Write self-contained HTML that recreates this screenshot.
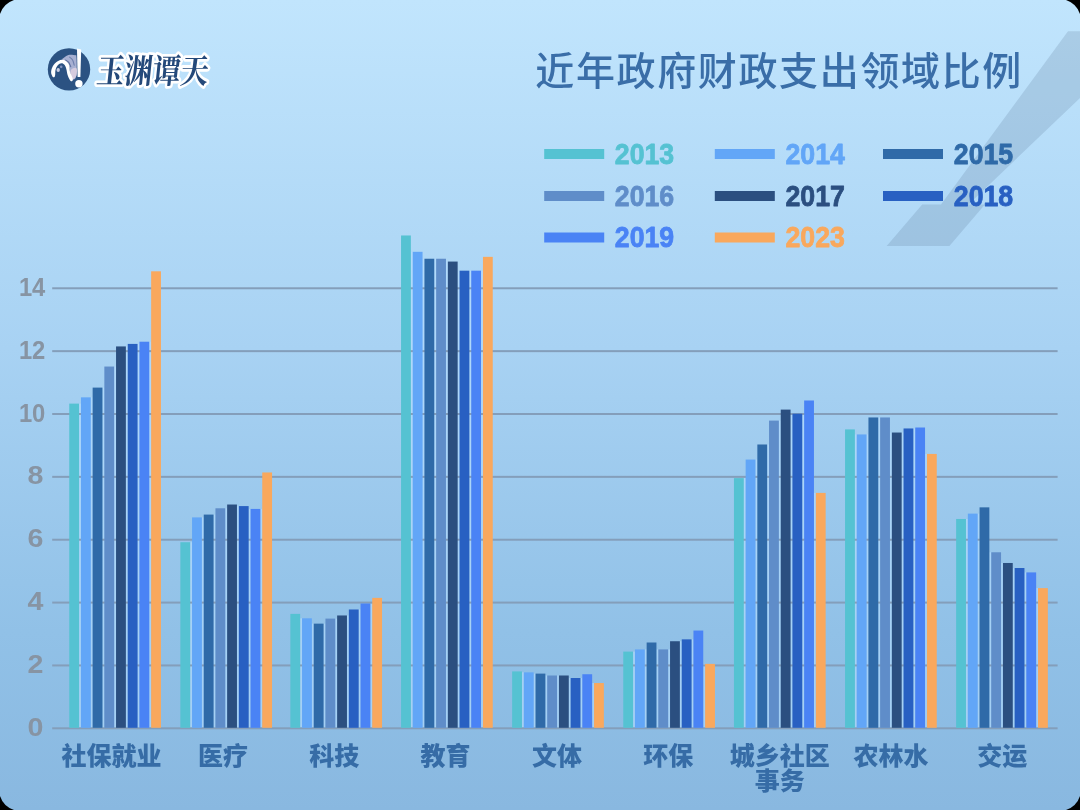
<!DOCTYPE html>
<html lang="zh-CN">
<head>
<meta charset="utf-8">
<title>近年政府财政支出领域比例</title>
<style>
html,body{margin:0;padding:0;background:#000;}
body{width:1080px;height:810px;overflow:hidden;}
svg{display:block;}
.num{font-family:"Liberation Sans","Noto Sans CJK SC",sans-serif;font-weight:700;}
.cjk{font-family:"Liberation Sans","Noto Sans CJK SC",sans-serif;}
.logo{font-family:"Liberation Serif","Noto Serif CJK SC",serif;font-weight:700;}
</style>
</head>
<body>
<svg width="1080" height="810" viewBox="0 0 1080 810">
<defs>
<linearGradient id="bg" x1="0" y1="0" x2="0" y2="1">
<stop offset="0" stop-color="#C1E5FD"/>
<stop offset="0.43" stop-color="#A8D2F3"/>
<stop offset="0.78" stop-color="#91C1E7"/>
<stop offset="1" stop-color="#89B8E0"/>
</linearGradient>
<clipPath id="card"><path d="M14,0 L1066,0 Q1076.5,3.5 1080,14 L1080,796 Q1076.5,806.5 1066,810 L14,810 Q3.5,806.5 0,796 L0,14 Q3.5,3.5 14,0 Z"/></clipPath>
</defs>
<path d="M14,0 L1066,0 Q1076.5,3.5 1080,14 L1080,796 Q1076.5,806.5 1066,810 L14,810 Q3.5,806.5 0,796 L0,14 Q3.5,3.5 14,0 Z" fill="url(#bg)"/>
<g clip-path="url(#card)">
<polygon points="1068,31.3 1080,31.3 1080,98 968.5,204.4 984.9,204.4 949.4,245.9 886.7,245.9 922.2,204.4 941,204.4" fill="#4E688C" fill-opacity="0.19"/>
</g>
<g id="logo">
<circle cx="69" cy="69.4" r="21.2" fill="#2B5282"/>
<path d="M62.22,59.41 C62.10,58.67 63.95,57.43 65.19,56.67 C66.42,55.90 68.02,55.06 69.63,54.81 C71.23,54.57 73.68,54.81 74.81,55.19 C75.95,55.56 76.17,53.64 76.44,57.04 C76.72,60.43 77.02,71.85 76.44,75.56 C75.86,79.26 74.04,79.88 72.96,79.26 C71.89,78.64 70.62,74.20 70.00,71.85 C69.38,69.51 69.94,66.98 69.26,65.19 C68.58,63.40 67.10,62.07 65.93,61.11 C64.75,60.15 62.35,60.15 62.22,59.41 Z" fill="#A7B0D2"/>
<path d="M71.11,69.63 C72.06,68.52 75.56,67.16 76.44,68.15 C77.33,69.14 77.02,73.70 76.44,75.56 C75.86,77.41 73.91,79.38 72.96,79.26 C72.01,79.14 71.05,76.42 70.74,74.81 C70.43,73.21 70.16,70.74 71.11,69.63 Z" fill="#D6CCDF"/>
<path d="M65.56,60.15 C66.05,60.49 67.65,61.14 68.52,62.22 C69.38,63.31 70.37,65.93 70.74,66.67" fill="none" stroke="#5D6F9F" stroke-width="1.1" stroke-linecap="round"/>
<path d="M69.63,57.19 C70.12,57.65 71.83,58.67 72.59,60.00 C73.36,61.33 73.95,64.32 74.22,65.19" fill="none" stroke="#6F80AE" stroke-width="1.1" stroke-linecap="round"/>
<path d="M52.59,76.67 C52.04,75.93 51.17,74.14 51.11,72.59 C51.05,71.05 51.42,69.07 52.22,67.41 C53.02,65.74 54.38,63.85 55.93,62.59 C57.47,61.33 59.81,60.10 61.48,59.85 C63.15,59.60 64.63,60.22 65.93,61.11 C67.22,62.00 68.58,63.40 69.26,65.19 C69.94,66.98 69.38,69.51 70.00,71.85 C70.62,74.20 72.84,77.72 72.96,79.26 C73.09,80.80 71.60,81.73 70.74,81.11 C69.88,80.49 68.52,77.59 67.78,75.56 C67.04,73.52 66.85,70.68 66.30,68.89 C65.74,67.10 65.25,65.74 64.44,64.81 C63.64,63.89 62.59,63.27 61.48,63.33 C60.37,63.40 58.77,64.14 57.78,65.19 C56.79,66.23 55.99,68.02 55.56,69.63 C55.12,71.23 55.37,73.58 55.19,74.81 C55.00,76.05 54.88,76.73 54.44,77.04 C54.01,77.35 53.15,77.41 52.59,76.67 Z" fill="#fff"/>
<ellipse cx="58.2" cy="70" rx="1.7" ry="2.1" fill="#C9CDE4"/>
<ellipse cx="61.2" cy="66.8" rx="1.3" ry="1.4" fill="#7F8FBC"/>
<path d="M77,48.4 L81.2,49.4 L80.4,77 L77.6,77 Z" fill="#fff"/>
<circle cx="78.9" cy="83.7" r="3.7" fill="#fff"/>
<text class="logo" transform="translate(95.5,82.5) skewX(-6) scale(1,1.25)" x="0" y="0" font-size="27" fill="#24497A" stroke="#fff" stroke-width="4.5" stroke-linejoin="round" paint-order="stroke fill" textLength="112" lengthAdjust="spacingAndGlyphs">玉渊谭天</text>
</g>
<text class="cjk" x="535.3" y="85.3" font-size="39" font-weight="500" fill="#3A6EA8" textLength="486" lengthAdjust="spacing">近年政府财政支出领域比例</text>
<rect x="544.2" y="149" width="60" height="10" fill="#55C2D2"/><text class="num" x="614.8" y="163.6" font-size="29" fill="#55C2D2" stroke="#55C2D2" stroke-width="0.8" stroke-linejoin="round" textLength="59.4" lengthAdjust="spacingAndGlyphs">2013</text>
<rect x="714.8" y="149" width="60" height="10" fill="#62A6F7"/><text class="num" x="785.5" y="163.6" font-size="29" fill="#62A6F7" stroke="#62A6F7" stroke-width="0.8" stroke-linejoin="round" textLength="59.4" lengthAdjust="spacingAndGlyphs">2014</text>
<rect x="883.0" y="149" width="60" height="10" fill="#2F6AA8"/><text class="num" x="953.8" y="163.6" font-size="29" fill="#2F6AA8" stroke="#2F6AA8" stroke-width="0.8" stroke-linejoin="round" textLength="59.4" lengthAdjust="spacingAndGlyphs">2015</text>
<rect x="544.2" y="191" width="60" height="10" fill="#5F8DC9"/><text class="num" x="614.8" y="205.6" font-size="29" fill="#5F8DC9" stroke="#5F8DC9" stroke-width="0.8" stroke-linejoin="round" textLength="59.4" lengthAdjust="spacingAndGlyphs">2016</text>
<rect x="714.8" y="191" width="60" height="10" fill="#2B4F80"/><text class="num" x="785.5" y="205.6" font-size="29" fill="#2B4F80" stroke="#2B4F80" stroke-width="0.8" stroke-linejoin="round" textLength="59.4" lengthAdjust="spacingAndGlyphs">2017</text>
<rect x="883.0" y="191" width="60" height="10" fill="#2860C2"/><text class="num" x="953.8" y="205.6" font-size="29" fill="#2860C2" stroke="#2860C2" stroke-width="0.8" stroke-linejoin="round" textLength="59.4" lengthAdjust="spacingAndGlyphs">2018</text>
<rect x="544.2" y="232.5" width="60" height="10" fill="#4A83F5"/><text class="num" x="614.8" y="247.1" font-size="29" fill="#4A83F5" stroke="#4A83F5" stroke-width="0.8" stroke-linejoin="round" textLength="59.4" lengthAdjust="spacingAndGlyphs">2019</text>
<rect x="714.8" y="232.5" width="60" height="10" fill="#F9A85D"/><text class="num" x="785.5" y="247.1" font-size="29" fill="#F9A85D" stroke="#F9A85D" stroke-width="0.8" stroke-linejoin="round" textLength="59.4" lengthAdjust="spacingAndGlyphs">2023</text>
<g fill="#B4DCFF" fill-opacity="0.6"><rect x="79.05" y="403.63" width="1.90" height="324.07"/><rect x="90.75" y="397.34" width="1.90" height="330.36"/><rect x="102.45" y="387.60" width="1.90" height="340.10"/><rect x="114.15" y="366.54" width="1.90" height="361.16"/><rect x="125.85" y="346.43" width="1.90" height="381.27"/><rect x="137.55" y="343.91" width="1.90" height="383.79"/><rect x="149.25" y="341.71" width="1.90" height="385.99"/><rect x="190.15" y="542.23" width="1.90" height="185.47"/><rect x="201.85" y="517.40" width="1.90" height="210.30"/><rect x="213.55" y="514.58" width="1.90" height="213.12"/><rect x="225.25" y="508.29" width="1.90" height="219.41"/><rect x="236.95" y="506.09" width="1.90" height="221.61"/><rect x="248.65" y="508.92" width="1.90" height="218.78"/><rect x="260.35" y="508.92" width="1.90" height="218.78"/><rect x="300.15" y="618.29" width="1.90" height="109.41"/><rect x="311.85" y="623.64" width="1.90" height="104.06"/><rect x="323.55" y="623.64" width="1.90" height="104.06"/><rect x="335.25" y="618.61" width="1.90" height="109.09"/><rect x="346.95" y="615.47" width="1.90" height="112.23"/><rect x="358.65" y="609.49" width="1.90" height="118.21"/><rect x="370.35" y="603.52" width="1.90" height="124.18"/><rect x="410.85" y="251.82" width="1.90" height="475.88"/><rect x="422.55" y="258.74" width="1.90" height="468.96"/><rect x="434.25" y="258.74" width="1.90" height="468.96"/><rect x="445.95" y="261.56" width="1.90" height="466.14"/><rect x="457.65" y="270.68" width="1.90" height="457.02"/><rect x="469.35" y="270.68" width="1.90" height="457.02"/><rect x="481.05" y="270.68" width="1.90" height="457.02"/><rect x="521.95" y="672.35" width="1.90" height="55.35"/><rect x="533.65" y="673.61" width="1.90" height="54.09"/><rect x="545.35" y="675.50" width="1.90" height="52.20"/><rect x="557.05" y="675.50" width="1.90" height="52.20"/><rect x="568.75" y="678.01" width="1.90" height="49.69"/><rect x="580.45" y="678.01" width="1.90" height="49.69"/><rect x="592.15" y="683.04" width="1.90" height="44.66"/><rect x="633.05" y="651.61" width="1.90" height="76.09"/><rect x="644.75" y="649.41" width="1.90" height="78.29"/><rect x="656.45" y="649.41" width="1.90" height="78.29"/><rect x="668.15" y="649.41" width="1.90" height="78.29"/><rect x="679.85" y="641.24" width="1.90" height="86.46"/><rect x="691.55" y="639.35" width="1.90" height="88.35"/><rect x="703.25" y="663.87" width="1.90" height="63.83"/><rect x="743.75" y="478.12" width="1.90" height="249.58"/><rect x="755.45" y="459.57" width="1.90" height="268.13"/><rect x="767.15" y="444.49" width="1.90" height="283.21"/><rect x="778.85" y="420.60" width="1.90" height="307.10"/><rect x="790.55" y="413.69" width="1.90" height="314.01"/><rect x="802.25" y="413.69" width="1.90" height="314.01"/><rect x="813.95" y="492.89" width="1.90" height="234.81"/><rect x="854.85" y="434.43" width="1.90" height="293.27"/><rect x="866.55" y="434.43" width="1.90" height="293.27"/><rect x="878.25" y="417.46" width="1.90" height="310.24"/><rect x="889.95" y="432.54" width="1.90" height="295.16"/><rect x="901.65" y="432.54" width="1.90" height="295.16"/><rect x="913.35" y="428.46" width="1.90" height="299.24"/><rect x="925.05" y="453.92" width="1.90" height="273.78"/><rect x="965.95" y="518.98" width="1.90" height="208.72"/><rect x="977.65" y="513.63" width="1.90" height="214.07"/><rect x="989.35" y="552.29" width="1.90" height="175.41"/><rect x="1001.05" y="562.98" width="1.90" height="164.72"/><rect x="1012.75" y="568.01" width="1.90" height="159.69"/><rect x="1024.45" y="572.41" width="1.90" height="155.29"/><rect x="1036.15" y="588.12" width="1.90" height="139.58"/></g>
<rect x="52.2" y="727.30" width="1005.4" height="2" fill="#849EBA"/><text class="num" transform="translate(27.6,735.90) scale(1.1,1)" x="0" y="0" font-size="26" fill="#8794A3">0</text>
<rect x="52.2" y="664.44" width="1005.4" height="2" fill="#849EBA"/><text class="num" transform="translate(27.6,673.04) scale(1.1,1)" x="0" y="0" font-size="26" fill="#8794A3">2</text>
<rect x="52.2" y="601.58" width="1005.4" height="2" fill="#849EBA"/><text class="num" transform="translate(27.6,610.18) scale(1.1,1)" x="0" y="0" font-size="26" fill="#8794A3">4</text>
<rect x="52.2" y="538.72" width="1005.4" height="2" fill="#849EBA"/><text class="num" transform="translate(27.6,547.32) scale(1.1,1)" x="0" y="0" font-size="26" fill="#8794A3">6</text>
<rect x="52.2" y="475.86" width="1005.4" height="2" fill="#849EBA"/><text class="num" transform="translate(27.6,484.46) scale(1.1,1)" x="0" y="0" font-size="26" fill="#8794A3">8</text>
<rect x="52.2" y="413.00" width="1005.4" height="2" fill="#849EBA"/><text class="num" transform="translate(18.9,421.60) scale(0.915,1)" x="0" y="0" font-size="26" fill="#8794A3">10</text>
<rect x="52.2" y="350.14" width="1005.4" height="2" fill="#849EBA"/><text class="num" transform="translate(18.9,358.74) scale(0.915,1)" x="0" y="0" font-size="26" fill="#8794A3">12</text>
<rect x="52.2" y="287.28" width="1005.4" height="2" fill="#849EBA"/><text class="num" transform="translate(18.9,295.88) scale(0.915,1)" x="0" y="0" font-size="26" fill="#8794A3">14</text>
<g><rect x="69.25" y="403.63" width="9.8" height="324.17" fill="#55C2D2"/><rect x="80.95" y="397.34" width="9.8" height="330.46" fill="#62A6F7"/><rect x="92.65" y="387.60" width="9.8" height="340.20" fill="#2F6AA8"/><rect x="104.35" y="366.54" width="9.8" height="361.26" fill="#5F8DC9"/><rect x="116.05" y="346.43" width="9.8" height="381.37" fill="#2B4F80"/><rect x="127.75" y="343.91" width="9.8" height="383.89" fill="#2860C2"/><rect x="139.45" y="341.71" width="9.8" height="386.09" fill="#4A83F5"/><rect x="151.15" y="271.31" width="9.8" height="456.49" fill="#F9A85D"/></g>
<g><rect x="180.35" y="542.23" width="9.8" height="185.57" fill="#55C2D2"/><rect x="192.05" y="517.40" width="9.8" height="210.40" fill="#62A6F7"/><rect x="203.75" y="514.58" width="9.8" height="213.22" fill="#2F6AA8"/><rect x="215.45" y="508.29" width="9.8" height="219.51" fill="#5F8DC9"/><rect x="227.15" y="504.52" width="9.8" height="223.28" fill="#2B4F80"/><rect x="238.85" y="506.09" width="9.8" height="221.71" fill="#2860C2"/><rect x="250.55" y="508.92" width="9.8" height="218.88" fill="#4A83F5"/><rect x="262.25" y="472.46" width="9.8" height="255.34" fill="#F9A85D"/></g>
<g><rect x="290.35" y="613.89" width="9.8" height="113.91" fill="#55C2D2"/><rect x="302.05" y="618.29" width="9.8" height="109.50" fill="#62A6F7"/><rect x="313.75" y="623.64" width="9.8" height="104.16" fill="#2F6AA8"/><rect x="325.45" y="618.61" width="9.8" height="109.19" fill="#5F8DC9"/><rect x="337.15" y="615.47" width="9.8" height="112.33" fill="#2B4F80"/><rect x="348.85" y="609.49" width="9.8" height="118.31" fill="#2860C2"/><rect x="360.55" y="603.52" width="9.8" height="124.28" fill="#4A83F5"/><rect x="372.25" y="597.87" width="9.8" height="129.93" fill="#F9A85D"/></g>
<g><rect x="401.05" y="235.48" width="9.8" height="492.32" fill="#55C2D2"/><rect x="412.75" y="251.82" width="9.8" height="475.98" fill="#62A6F7"/><rect x="424.45" y="258.74" width="9.8" height="469.06" fill="#2F6AA8"/><rect x="436.15" y="258.74" width="9.8" height="469.06" fill="#5F8DC9"/><rect x="447.85" y="261.56" width="9.8" height="466.24" fill="#2B4F80"/><rect x="459.55" y="270.68" width="9.8" height="457.12" fill="#2860C2"/><rect x="471.25" y="270.68" width="9.8" height="457.12" fill="#4A83F5"/><rect x="482.95" y="256.85" width="9.8" height="470.95" fill="#F9A85D"/></g>
<g><rect x="512.15" y="671.41" width="9.8" height="56.39" fill="#55C2D2"/><rect x="523.85" y="672.35" width="9.8" height="55.45" fill="#62A6F7"/><rect x="535.55" y="673.61" width="9.8" height="54.19" fill="#2F6AA8"/><rect x="547.25" y="675.50" width="9.8" height="52.30" fill="#5F8DC9"/><rect x="558.95" y="675.50" width="9.8" height="52.30" fill="#2B4F80"/><rect x="570.65" y="678.01" width="9.8" height="49.79" fill="#2860C2"/><rect x="582.35" y="674.24" width="9.8" height="53.56" fill="#4A83F5"/><rect x="594.05" y="683.04" width="9.8" height="44.76" fill="#F9A85D"/></g>
<g><rect x="623.25" y="651.61" width="9.8" height="76.19" fill="#55C2D2"/><rect x="634.95" y="649.41" width="9.8" height="78.39" fill="#62A6F7"/><rect x="646.65" y="642.50" width="9.8" height="85.30" fill="#2F6AA8"/><rect x="658.35" y="649.41" width="9.8" height="78.39" fill="#5F8DC9"/><rect x="670.05" y="641.24" width="9.8" height="86.56" fill="#2B4F80"/><rect x="681.75" y="639.35" width="9.8" height="88.45" fill="#2860C2"/><rect x="693.45" y="630.55" width="9.8" height="97.25" fill="#4A83F5"/><rect x="705.15" y="663.87" width="9.8" height="63.93" fill="#F9A85D"/></g>
<g><rect x="733.95" y="478.12" width="9.8" height="249.68" fill="#55C2D2"/><rect x="745.65" y="459.57" width="9.8" height="268.23" fill="#62A6F7"/><rect x="757.35" y="444.49" width="9.8" height="283.31" fill="#2F6AA8"/><rect x="769.05" y="420.60" width="9.8" height="307.20" fill="#5F8DC9"/><rect x="780.75" y="409.60" width="9.8" height="318.20" fill="#2B4F80"/><rect x="792.45" y="413.69" width="9.8" height="314.11" fill="#2860C2"/><rect x="804.15" y="400.49" width="9.8" height="327.31" fill="#4A83F5"/><rect x="815.85" y="492.89" width="9.8" height="234.91" fill="#F9A85D"/></g>
<g><rect x="845.05" y="429.40" width="9.8" height="298.40" fill="#55C2D2"/><rect x="856.75" y="434.43" width="9.8" height="293.37" fill="#62A6F7"/><rect x="868.45" y="417.46" width="9.8" height="310.34" fill="#2F6AA8"/><rect x="880.15" y="417.46" width="9.8" height="310.34" fill="#5F8DC9"/><rect x="891.85" y="432.54" width="9.8" height="295.26" fill="#2B4F80"/><rect x="903.55" y="428.46" width="9.8" height="299.34" fill="#2860C2"/><rect x="915.25" y="427.51" width="9.8" height="300.29" fill="#4A83F5"/><rect x="926.95" y="453.92" width="9.8" height="273.88" fill="#F9A85D"/></g>
<g><rect x="956.15" y="518.98" width="9.8" height="208.82" fill="#55C2D2"/><rect x="967.85" y="513.63" width="9.8" height="214.17" fill="#62A6F7"/><rect x="979.55" y="507.35" width="9.8" height="220.45" fill="#2F6AA8"/><rect x="991.25" y="552.29" width="9.8" height="175.51" fill="#5F8DC9"/><rect x="1002.95" y="562.98" width="9.8" height="164.82" fill="#2B4F80"/><rect x="1014.65" y="568.01" width="9.8" height="159.79" fill="#2860C2"/><rect x="1026.35" y="572.41" width="9.8" height="155.39" fill="#4A83F5"/><rect x="1038.05" y="588.12" width="9.8" height="139.68" fill="#F9A85D"/></g>
<text class="cjk" x="111.60" y="765.30" font-size="25" font-weight="900" text-anchor="middle" fill="#366CA6">社保就业</text>
<text class="cjk" x="222.94" y="765.30" font-size="25" font-weight="900" text-anchor="middle" fill="#366CA6">医疗</text>
<text class="cjk" x="334.28" y="765.30" font-size="25" font-weight="900" text-anchor="middle" fill="#366CA6">科技</text>
<text class="cjk" x="445.62" y="765.30" font-size="25" font-weight="900" text-anchor="middle" fill="#366CA6">教育</text>
<text class="cjk" x="556.96" y="765.30" font-size="25" font-weight="900" text-anchor="middle" fill="#366CA6">文体</text>
<text class="cjk" x="668.30" y="765.30" font-size="25" font-weight="900" text-anchor="middle" fill="#366CA6">环保</text>
<text class="cjk" x="779.64" y="765.30" font-size="25" font-weight="900" text-anchor="middle" fill="#366CA6">城乡社区</text>
<text class="cjk" x="779.64" y="789.90" font-size="25" font-weight="900" text-anchor="middle" fill="#366CA6">事务</text>
<text class="cjk" x="890.98" y="765.30" font-size="25" font-weight="900" text-anchor="middle" fill="#366CA6">农林水</text>
<text class="cjk" x="1002.32" y="765.30" font-size="25" font-weight="900" text-anchor="middle" fill="#366CA6">交运</text>
</svg>
</body>
</html>
